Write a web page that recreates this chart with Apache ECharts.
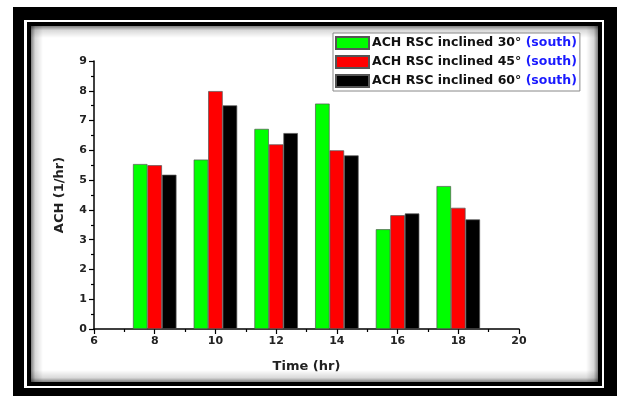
<!DOCTYPE html>
<html>
<head>
<meta charset="utf-8">
<script src="https://cdn.jsdelivr.net/npm/echarts@6/dist/echarts.min.js"></script>
<style>
html,body{margin:0;padding:0;background:#fff;}
#c{width:617px;height:396px;}
</style>
</head>
<body>
<div id="c"></div>
<script>
const times = [8, 10, 12, 14, 16, 18];
const seriesNames = [
  'ACH RSC inclined 30° (south)',
  'ACH RSC inclined 45° (south)',
  'ACH RSC inclined 60° (south)'
];
const ach30 = [5.54, 5.69, 6.72, 7.57, 3.35, 4.80];
const ach45 = [5.50, 7.99, 6.20, 6.00, 3.82, 4.07];
const ach60 = [5.18, 7.51, 6.58, 5.83, 3.88, 3.68];
const colors = ['#00ff00', '#ff0000', '#000000'];
const xTicks = [6, 8, 10, 12, 14, 16, 18, 20];
const yTicks = [0, 1, 2, 3, 4, 5, 6, 7, 8, 9];

const values = [ach30, ach45, ach60];
const FONT = 'DejaVu Sans, Liberation Sans, Arial, sans-serif';
const chart = echarts.init(document.getElementById('c'), null, {renderer: 'canvas'});

function edgeGrad(x, y, w, h, dir) {
  let g;
  if (dir === 'left') g = {x: 0, y: 0, x2: 1, y2: 0};
  else if (dir === 'right') g = {x: 1, y: 0, x2: 0, y2: 0};
  else if (dir === 'top') g = {x: 0, y: 0, x2: 0, y2: 1};
  else g = {x: 0, y: 1, x2: 0, y2: 0};
  return {
    type: 'rect', z: -5, silent: true,
    shape: {x: x, y: y, width: w, height: h},
    style: {
      fill: {
        type: 'linear', x: g.x, y: g.y, x2: g.x2, y2: g.y2,
        colorStops: [
          {offset: 0, color: 'rgba(0,0,0,0.5)'},
          {offset: 0.35, color: 'rgba(0,0,0,0.15)'},
          {offset: 1, color: 'rgba(0,0,0,0)'}
        ]
      }
    }
  };
}

const ix = 31, iy = 26, iw = 567, ih = 356, sw = 12;

const option = {
  backgroundColor: '#ffffff',
  animation: false,
  textStyle: {fontFamily: FONT},
  graphic: [
    {type: 'rect', z: -10, silent: true, shape: {x: 13, y: 7, width: 604, height: 389}, style: {fill: '#000'}},
    {type: 'rect', z: -9, silent: true, shape: {x: 24, y: 20, width: 580, height: 368}, style: {fill: '#fff'}},
    {type: 'rect', z: -8, silent: true, shape: {x: 27, y: 22, width: 575, height: 364}, style: {fill: '#000'}},
    {type: 'rect', z: -7, silent: true, shape: {x: ix, y: iy, width: iw, height: ih}, style: {fill: '#fff'}},
    edgeGrad(ix, iy, sw, ih, 'left'),
    edgeGrad(ix + iw - sw, iy, sw, ih, 'right'),
    edgeGrad(ix, iy, iw, sw, 'top'),
    edgeGrad(ix, iy + ih - sw, iw, sw, 'bottom')
  ],
  grid: {left: 94, right: 98, top: 61, bottom: 67, containLabel: false},
  legend: {
    orient: 'vertical',
    left: 333, top: 33,
    icon: 'rect',
    itemWidth: 33, itemHeight: 12, itemGap: 5,
    padding: [3, 3, 3, 2],
    backgroundColor: '#fff',
    borderColor: '#888', borderWidth: 1,
    data: seriesNames,
    formatter: function (n) { return n.replace('(south)', '{b|(south)}'); },
    textStyle: {
      fontFamily: FONT,
      fontSize: 12.5, fontWeight: 'bold', color: '#111',
      padding: [0, 0, 0, -2],
      rich: {b: {color: '#1a1aff', fontSize: 12.5, fontWeight: 'bold', fontFamily: FONT}}
    }
  },
  xAxis: {
    type: 'value', min: 6, max: 20, interval: 2,
    name: 'Time (hr)', nameLocation: 'middle', nameGap: 31,
    nameTextStyle: {fontSize: 13, fontWeight: 'bold', color: '#222', fontFamily: FONT},
    axisLine: {show: true, onZero: false, lineStyle: {color: '#000', width: 1.5}},
    axisTick: {show: true, length: 5, lineStyle: {color: '#000', width: 1.2}},
    minorTick: {show: true, splitNumber: 2, length: 3, lineStyle: {color: '#000', width: 1.2}},
    splitLine: {show: false},
    axisLabel: {fontSize: 11, fontWeight: 'bold', color: '#222', margin: 7, fontFamily: FONT,
      formatter: function (v) { return xTicks.indexOf(v) >= 0 ? String(v) : ''; }}
  },
  yAxis: {
    type: 'value', min: 0, max: 9, interval: 1,
    name: 'ACH (1/hr)', nameLocation: 'middle', nameGap: 28, nameRotate: 90,
    nameTextStyle: {fontSize: 13, fontWeight: 'bold', color: '#222', fontFamily: FONT},
    axisLine: {show: true, lineStyle: {color: '#000', width: 1.5}},
    axisTick: {show: true, length: 5, lineStyle: {color: '#000', width: 1.2}},
    minorTick: {show: true, splitNumber: 2, length: 3, lineStyle: {color: '#000', width: 1.2}},
    splitLine: {show: false},
    axisLabel: {fontSize: 11, fontWeight: 'bold', color: '#222', margin: 7, fontFamily: FONT,
      formatter: function (v) { return yTicks.indexOf(v) >= 0 ? String(v) : ''; }}
  },
  series: seriesNames.map(function (name, i) {
    return {
      name: name, type: 'bar',
      barWidth: 14.5, barGap: '0%',
      itemStyle: {color: colors[i], borderColor: '#555', borderWidth: 0.7},
      data: times.map(function (t, k) { return [t, values[i][k]]; })
    };
  })
};
chart.setOption(option);
</script>
</body>
</html>
